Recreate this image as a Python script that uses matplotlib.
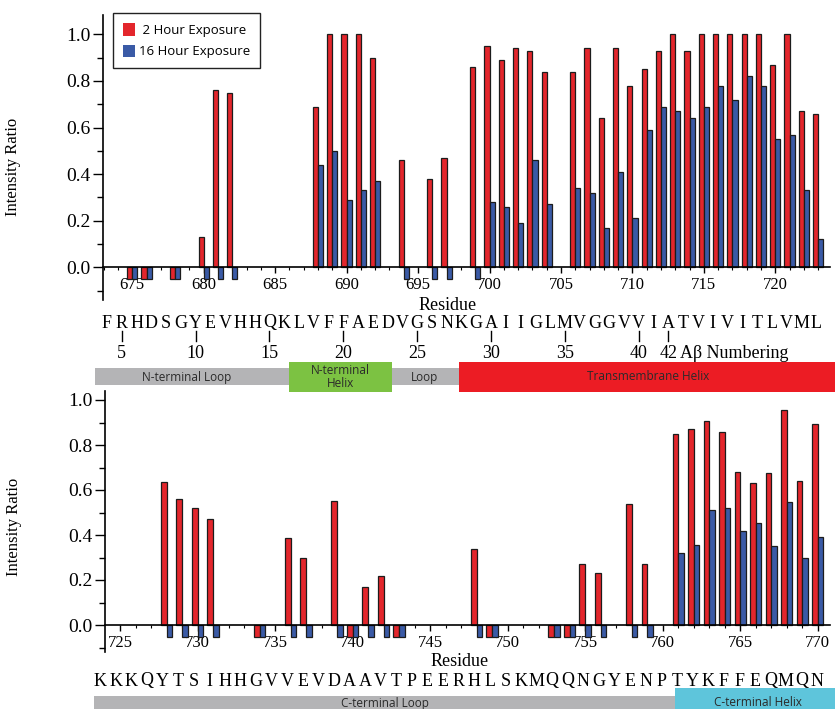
import numpy as np
import matplotlib
matplotlib.use("Agg")
import matplotlib.pyplot as plt
from matplotlib.patches import Rectangle, Patch
from matplotlib.ticker import MultipleLocator, FormatStrFormatter

W, H = 835, 709
nan = np.nan

# ---- data -----------------------------------------------------------------
top_res = np.arange(675, 724)
top_2h = [-0.05, -0.05, nan, -0.05, nan, 0.13, 0.76, 0.75, nan, nan,
          nan, nan, nan, 0.69, 1.00, 1.00, 1.00, 0.90, nan, 0.46,
          nan, 0.38, 0.47, nan, 0.86, 0.95, 0.89, 0.94, 0.93, 0.84,
          nan, 0.84, 0.94, 0.64, 0.94, 0.78, 0.85, 0.93, 1.00, 0.93,
          1.00, 1.00, 1.00, 1.00, 1.00, 0.87, 1.00, 0.67, 0.66]
top_16h = [-0.05, -0.05, nan, -0.05, nan, -0.05, -0.05, -0.05, nan, nan,
           nan, nan, nan, 0.44, 0.50, 0.29, 0.33, 0.37, nan, -0.05,
           nan, -0.05, -0.05, nan, -0.05, 0.28, 0.26, 0.19, 0.46, 0.27,
           nan, 0.34, 0.32, 0.17, 0.41, 0.21, 0.59, 0.69, 0.67, 0.64,
           0.69, 0.78, 0.72, 0.82, 0.78, 0.55, 0.57, 0.33, 0.12]

bot_res = np.arange(724, 771)
bot_2h = [nan, nan, nan, nan, 0.635, 0.56, 0.52, 0.47, nan, nan,
          -0.055, nan, 0.385, 0.30, nan, 0.55, -0.055, 0.17, 0.22, -0.055,
          nan, nan, nan, nan, 0.34, -0.055, nan, nan, nan, -0.055,
          -0.055, 0.27, 0.23, nan, 0.54, 0.27, nan, 0.85, 0.87, 0.905,
          0.86, 0.68, 0.63, 0.675, 0.955, 0.64, 0.895]
bot_16h = [nan, nan, nan, nan, -0.055, -0.055, -0.055, -0.055, nan, nan,
           -0.055, nan, -0.055, -0.055, nan, -0.055, -0.055, -0.055, -0.055, -0.055,
           nan, nan, nan, nan, -0.055, -0.055, nan, nan, nan, -0.055,
           -0.055, -0.055, -0.055, nan, -0.055, -0.055, nan, 0.32, 0.355, 0.51,
           0.52, 0.42, 0.455, 0.35, 0.545, 0.30, 0.39]

top_seq = "FRHDSGYEVHHQKLVFFAEDVGSNKGAIIGLMVGGVVIATVIVITLVML"
bot_seq = "KKKQYTSIHHGVVEVDAAVTPEERHLSKMQQNGYENPTYKFFEQMQN"
ab_first = 4                       # Abeta number of first top letter
ab_numbers = [5, 10, 15, 20, 25, 30, 35, 40, 42]

# regions in sequence-letter index units (start, end, label, colour)
top_regions = [(-0.8, 23.8, "", "#B4B4B6"),
               (12.3, 19.3, "N-terminal\nHelix", "#7CC242"),
               (23.8, 49.5, "Transmembrane Helix", "#EC1C24")]
top_region_labels = [(5.4, "N-terminal Loop"), (21.5, "Loop")]
bot_regions = [(-0.4, 36.9, "C-terminal Loop", "#B4B4B6"),
               (36.9, 47.5, "C-terminal Helix", "#5EC5DB")]

RED = "#E3262C"
BLUE = "#3A5AA6"
EDGE = "#1c1c1c"
SERIF = "Liberation Serif"
SANS = "Open Sans"

fig = plt.figure(figsize=(W / 100, H / 100), dpi=100)
fig.patch.set_facecolor("white")


def fx(px):
    return px / W


def fy(py):
    return 1 - py / H


def make_axes(rect, xlim, ylim, res, v2, v16, major0):
    ax = fig.add_axes(rect)
    ax.patch.set_alpha(0)
    w = 0.36
    ax.bar(res - w / 2, v2, width=w, color=RED, edgecolor=EDGE, linewidth=0.9,
           label="2 Hour Exposure", zorder=3)
    ax.bar(res + w / 2, v16, width=w, color=BLUE, edgecolor=EDGE, linewidth=0.9,
           label="16 Hour Exposure", zorder=3)
    ax.set_xlim(*xlim)
    ax.set_ylim(*ylim)
    ax.spines[["top", "right"]].set_visible(False)
    ax.spines["bottom"].set_position(("data", 0))
    ax.spines["bottom"].set_zorder(4)
    for s in ("left", "bottom"):
        ax.spines[s].set_linewidth(1.2)
    ax.xaxis.set_minor_locator(MultipleLocator(1))
    ax.set_xticks(np.arange(major0, xlim[1], 5))
    ax.yaxis.set_major_locator(MultipleLocator(0.2))
    ax.yaxis.set_minor_locator(MultipleLocator(0.1))
    ax.yaxis.set_major_formatter(FormatStrFormatter("%.1f"))
    ax.tick_params(axis="x", which="major", length=4, width=1, pad=3,
                   labelsize=12, labelfontfamily=SERIF)
    ax.tick_params(axis="x", which="minor", length=2.5, width=0.8)
    ax.tick_params(axis="y", which="major", length=7, width=1, pad=2,
                   labelsize=14, labelfontfamily=SERIF)
    ax.tick_params(axis="y", which="minor", length=4, width=1)
    ax.set_ylabel("Intensity Ratio", fontsize=12, family=SERIF)
    return ax


# ---- annotation overlay (pixel coordinates), drawn first ---------------------
ov = fig.add_axes([0, 0, 1, 1])
ov.set_xlim(0, W)
ov.set_ylim(H, 0)
ov.axis("off")

# ---- top panel --------------------------------------------------------------
ax1 = make_axes([fx(103), fy(300), fx(727), (300 - 15) / H],
                (672.95, 723.83), (-0.14, 1.083),
                top_res, top_2h, top_16h, 675)
ax1.yaxis.set_label_coords(-0.113, 0.467)
leg = ax1.legend(handles=[Patch(facecolor=RED, edgecolor="none"),
                          Patch(facecolor=BLUE, edgecolor="none")],
                 labels=[" 2 Hour Exposure", "16 Hour Exposure"],
                 loc="upper left", bbox_to_anchor=(fx(113), fy(13)),
                 bbox_transform=fig.transFigure, borderaxespad=0,
                 fancybox=False, framealpha=1, edgecolor="#222222",
                 handlelength=0.9, handleheight=1.1, handletextpad=0.3,
                 borderpad=0.75, labelspacing=0.6,
                 prop={"family": SANS, "size": 9.5})
leg.get_frame().set_linewidth(1.0)

# ---- bottom panel ------------------------------------------------------------
ax2 = make_axes([fx(105), fy(652), fx(725), (652 - 391) / H],
                (724.03, 770.8), (-0.12, 1.04),
                bot_res, bot_2h, bot_16h, 725)
ax2.yaxis.set_label_coords(-0.115, 0.48)

# top sequence row
t0, tstep = 107, 14.77
ov.text(448, 305, "Residue", ha="center", va="center", fontsize=13, family=SERIF)
for i, ch in enumerate(top_seq):
    ov.text(t0 + i * tstep, 323, ch, ha="center", va="center", fontsize=13,
            family=SERIF)
for n in ab_numbers:
    x = t0 + (n - ab_first) * tstep
    ov.plot([x, x], [331, 341], color="black", lw=1)
    ov.text(x, 353, str(n), ha="center", va="center", fontsize=13, family=SERIF)
ov.text(t0 + (ab_numbers[-1] - ab_first) * tstep + 12, 353, "A\u03b2 Numbering",
        ha="left", va="center", fontsize=13, family=SERIF)

for s, e, lab, col in top_regions:
    x0, x1 = t0 + s * tstep, t0 + e * tstep
    thin = col == "#B4B4B6"
    y0, hgt = (368, 17) if thin else (362, 30)
    ov.add_patch(Rectangle((x0, y0), x1 - x0, hgt, facecolor=col, edgecolor="none"))
    if lab:
        ov.text((x0 + x1) / 2, y0 + hgt / 2, lab, ha="center", va="center",
                fontsize=8.5, family=SANS, color="#2a2a2a", linespacing=1.0)
for c, lab in top_region_labels:
    ov.text(t0 + c * tstep, 377, lab, ha="center", va="center", fontsize=8.5,
            family=SANS, color="#2a2a2a")

# bottom sequence row
b0, bstep = 100, 15.59
ov.text(460, 661, "Residue", ha="center", va="center", fontsize=13, family=SERIF)
for i, ch in enumerate(bot_seq):
    ov.text(b0 + i * bstep, 681, ch, ha="center", va="center", fontsize=13,
            family=SERIF)
for s, e, lab, col in bot_regions:
    x0, x1 = b0 + s * bstep, b0 + e * bstep
    y0 = 696 if col == "#B4B4B6" else 688
    ov.add_patch(Rectangle((x0, y0), x1 - x0, H - y0, facecolor=col, edgecolor="none"))
    ov.text((x0 + x1) / 2, 703, lab, ha="center", va="center", fontsize=8.5,
            family=SANS, color="#2a2a2a")

fig.savefig("out.png", dpi=100)
